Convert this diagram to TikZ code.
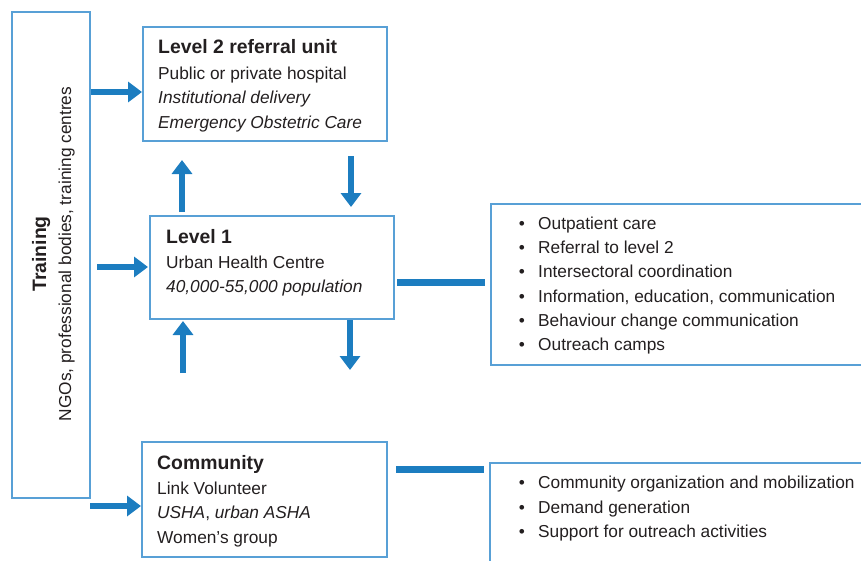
\documentclass[tikz,border=0pt]{standalone}
\usepackage{fontspec}
\setmainfont{Liberation Sans}
\usetikzlibrary{arrows.meta,calc}
\definecolor{boxblue}{RGB}{88,160,214}
\definecolor{arrblue}{RGB}{28,125,192}
\definecolor{txtc}{RGB}{35,31,32}
\begin{document}
\begin{tikzpicture}[x=1pt,y=-1pt,
  box/.style={draw=boxblue, line width=1.5pt, inner sep=0pt, outer sep=0pt, anchor=north west},
  arr/.style={draw=arrblue, line width=6.5pt, -{Triangle[length=14pt,width=20pt]}},
  ln/.style={draw=arrblue, line width=7pt},
  reg/.style={anchor=base west, inner sep=0pt, text=txtc, font=\fontsize{17.3}{24}\selectfont},
  hd/.style={anchor=base west, inner sep=0pt, text=txtc, font=\fontsize{19.4}{24}\selectfont\bfseries},
  bul/.style={anchor=base, inner sep=0pt, text=txtc, font=\fontsize{17.3}{24}\selectfont},
  ]
\useasboundingbox (0,0) rectangle (861,560);
\clip (0,0) rectangle (861,560);
% boxes
\node[box, minimum width=78pt, minimum height=486pt] (train) at (12,12) {};
\node[box, minimum width=244pt, minimum height=114pt] (l2) at (143,27) {};
\node[box, minimum width=244pt, minimum height=103pt] (l1) at (150,216) {};
\node[box, minimum width=245pt, minimum height=115pt] (comm) at (142,442) {};
\node[box, minimum width=420pt, minimum height=161pt] (r1) at (491,204) {};
\node[box, minimum width=420pt, minimum height=150pt] (r2) at (490,463) {};
% training text
\node[hd, anchor=base, rotate=90] (ttl) at (46,254) {Training};
\node[reg, anchor=base, rotate=90] (tsub) at (71,254) {NGOs, professional bodies, training centres};
% level 2
\node[hd] (l2a) at (158,53) {Level 2 referral unit};
\node[reg] (l2b) at (158,79) {Public or private hospital};
\node[reg] (l2c) at (158,103) {\itshape Institutional delivery};
\node[reg] (l2d) at (158,128) {\itshape Emergency Obstetric Care};
% level 1
\node[hd] (l1a) at (166,243) {Level 1};
\node[reg] (l1b) at (166,268) {Urban Health Centre};
\node[reg] (l1c) at (166,292) {\itshape 40,000-55,000 population};
% community
\node[hd] (ca) at (157,469) {Community};
\node[reg] (cb) at (157,494) {Link Volunteer};
\node[reg] (cc) at (157,518) {\itshape USHA\upshape, \itshape urban ASHA};
\node[reg] (cd) at (157,543) {Women’s group};
% bullets box 1
\foreach \t/\y [count=\i] in {Outpatient care/229, Referral to level 2/253, Intersectoral coordination/277, {Information, education, communication}/302, Behaviour change communication/326, Outreach camps/350}{
  \node[bul] (r1b\i) at (522,\y) {•};
  \node[reg] (r1t\i) at (538,\y) {\t};
}
% bullets box 2
\foreach \t/\y [count=\i] in {Community organization and mobilization/488, Demand generation/513, Support for outreach activities/537}{
  \node[bul] (r2b\i) at (522,\y) {•};
  \node[reg] (r2t\i) at (538,\y) {\t};
}
% free-end coordinates
\coordinate (upfoot) at ($(l1.south west)+(33,54)$);
\coordinate (downfoot) at ($(l1.south west)+(200,51)$);
% arrows from training
\draw[arr] ($(train.north east)+(1,80)$) -- ($(l2.north west)+(-1,65)$);
\draw[arr] ($(train.north east)+(7,255)$) -- ($(l1.north west)+(-2,51)$);
\draw[arr] ($(train.south east)+(0,8)$) -- ($(comm.north west)+(-1,64)$);
% vertical arrows
\draw[arr] ($(l1.north west)+(32,-4)$) -- ($(l2.south west)+(39,19)$);
\draw[arr] ($(l2.south west)+(208,15)$) -- ($(l1.north west)+(201,-9)$);
\draw[arr] (upfoot) -- ($(l1.south west)+(33,2)$);
\draw[arr] ($(l1.south west)+(200,1)$) -- (downfoot);
% connectors to bullet boxes
\draw[ln] ($(l1.north east)+(3,66)$) -- ($(r1.north west)+(-6,78)$);
\draw[ln] ($(comm.north east)+(9,27)$) -- ($(r2.north west)+(-6,6)$);
\end{tikzpicture}
\end{document}
